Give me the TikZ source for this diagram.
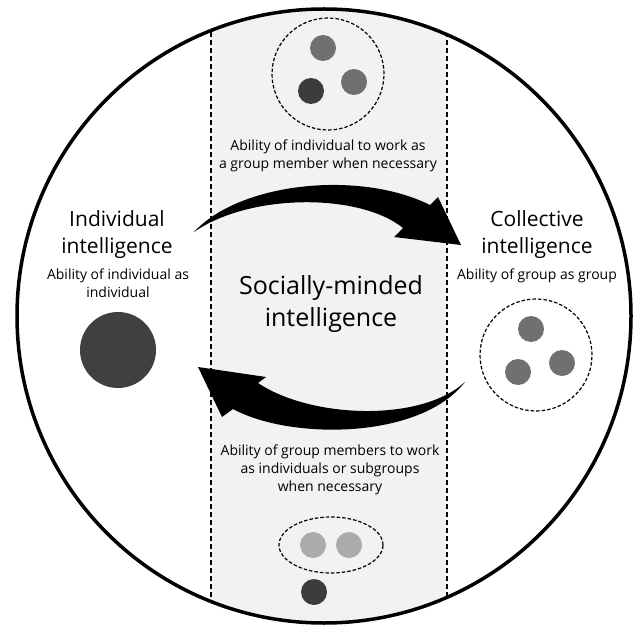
\documentclass[tikz,border=0pt]{standalone}
\usepackage{fontspec}
\setmainfont{Open Sans}
\usetikzlibrary{shapes.geometric}
\definecolor{bandgray}{HTML}{F2F2F2}
\definecolor{darkdot}{HTML}{3C3C3C}
\definecolor{middot}{HTML}{707070}
\definecolor{lightdot}{HTML}{ABABAB}
\definecolor{bigdot}{HTML}{404040}

\begin{document}
\begin{tikzpicture}[x=1pt,y=-1pt]
    % `dot' is used for the group members.
    % `group' is the dashed ring round a group.
    \tikzstyle{dot} = [circle,inner sep=0pt,minimum size=26pt]
    \tikzstyle{group} = [draw,dashed,dash pattern=on 3.5pt off 2pt,line width=1.2pt,circle,inner sep=0pt,minimum size=112pt]
    \tikzstyle{title} = [align=center,inner sep=0pt,anchor=north,font=\fontsize{21}{27}\selectfont]
    \tikzstyle{caption} = [align=center,inner sep=0pt,anchor=north,font=\fontsize{14}{18}\selectfont]
    \tikzstyle{border} = [draw,dash pattern=on 5pt off 3pt,line width=1.2pt]
    %
    \useasboundingbox (0,0) rectangle (637,628);
    \coordinate (O) at (324,316);
    % Band for the socially-minded part.
    \begin{scope}
      \clip (O) circle (307);
      \fill[bandgray] (211,0) rectangle (447,628);
      \draw[border] (211,0) -- (211,628);
      \draw[border] (447,0) -- (447,628);
    \end{scope}
    \draw[line width=3.5pt] (O) circle (307);
    %
    \node[title] (indiv) at (117,210) {Individual\\intelligence};
    \node[caption] (indivcap) at (118,269) {Ability of individual as\\individual};
    \node[dot,fill=bigdot,minimum size=76pt] (single) at (118,350) {};
    %
    \node[title] (coll) at (537,210) {Collective\\intelligence};
    \node[caption] (collcap) at (537,269) {Ability of group as group};
    \node[group] (collring) at (536,355) {};
    \node[dot,fill=middot] (c1) at (531,329) {};
    \node[dot,fill=middot] (c2) at (562,363) {};
    \node[dot,fill=middot] (c3) at (518,372) {};
    %
    \node[group] (topring) at (328,74) {};
    \node[dot,fill=middot] (t1) at (323,48) {};
    \node[dot,fill=middot] (t2) at (354,82) {};
    \node[dot,fill=darkdot] (t3) at (311,91) {};
    \node[caption] (topcap) at (328,140) {Ability of individual to work as\\a group member when necessary};
    %
    \node[align=center,inner sep=0pt,anchor=north,font=\fontsize{25}{32}\selectfont] (social) at (331,275) {Socially-minded\\intelligence};
    %
    \node[caption] (botcap) at (330,445) {Ability of group members to work\\as individuals or subgroups\\when necessary};
    \node[draw,dashed,dash pattern=on 3.5pt off 2pt,line width=1.2pt,ellipse,inner sep=0pt,minimum width=104pt,minimum height=56pt] (subring) at (331,545) {};
    \node[dot,fill=lightdot] (s1) at (313,545) {};
    \node[dot,fill=lightdot] (s2) at (349,545) {};
    \node[dot,fill=darkdot] (s3) at (314,592) {};
    %
    % Curved arrows between the two kinds of intelligence.
    \coordinate (upTail) at (194,232);
    \coordinate (upTip) at (461,245);
    \coordinate (lowTail) at (465,382);
    \coordinate (lowTip) at (198,367);
    \fill (upTail) .. controls (240,182) and (360,170) .. (430,205) -- (438,197) -- (upTip)
      -- (394,237) -- (403,228) .. controls (360,193) and (250,193) .. (upTail) -- cycle;
    \fill (lowTail) .. controls (420,423) and (310,418) .. (258,383) -- (266,377) -- (lowTip)
      -- (222,417) -- (233,409) .. controls (290,440) and (420,440) .. (lowTail) -- cycle;
\end{tikzpicture}
\end{document}
